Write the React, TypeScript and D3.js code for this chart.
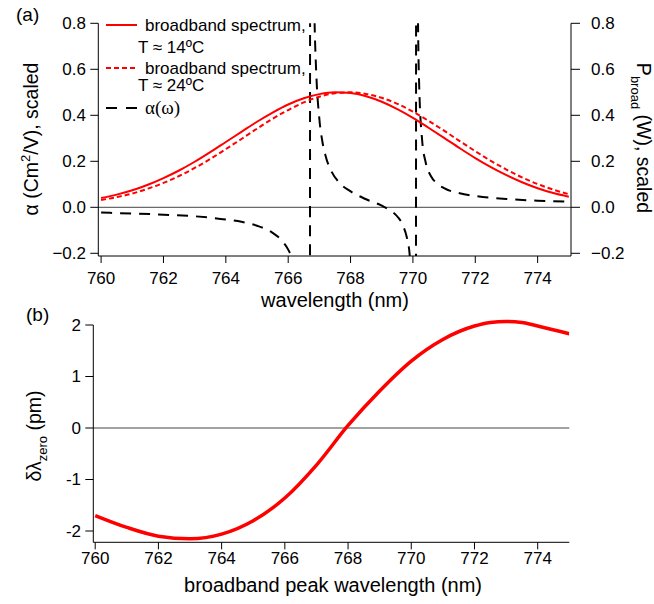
import React from "react";
import * as d3 from "d3";

// ---------- data ----------
const specWl = [760, 760.5, 761, 761.5, 762, 762.5, 763, 763.5, 764, 764.5, 765, 765.5, 766, 766.5, 767, 767.5, 768, 768.5, 769, 769.5, 770, 770.5, 771, 771.5, 772, 772.5, 773, 773.5, 774, 774.5, 775];
const spec14 = [0.040, 0.055, 0.074, 0.098, 0.127, 0.160, 0.198, 0.240, 0.284, 0.328, 0.372, 0.412, 0.447, 0.474, 0.492, 0.500, 0.497, 0.483, 0.459, 0.427, 0.389, 0.346, 0.302, 0.257, 0.214, 0.175, 0.140, 0.109, 0.083, 0.062, 0.046];
const spec24 = [0.032, 0.044, 0.060, 0.081, 0.106, 0.136, 0.171, 0.210, 0.253, 0.297, 0.342, 0.385, 0.423, 0.456, 0.481, 0.496, 0.500, 0.493, 0.476, 0.450, 0.416, 0.376, 0.333, 0.288, 0.244, 0.202, 0.164, 0.130, 0.101, 0.077, 0.057];

const alphaWl = [760, 761, 762, 763, 764, 764.5, 765, 765.5, 765.8, 766, 766.2, 766.4, 766.6, 766.68, 766.72, 766.75, 766.8, 766.85, 766.9, 767, 767.1, 767.2, 767.4, 767.6, 768, 768.5, 769, 769.3, 769.5, 769.7, 769.8, 769.9, 770, 770.08, 770.09, 770.11, 770.13, 770.16, 770.2, 770.3, 770.4, 770.6, 770.8, 771, 771.5, 772, 773, 774, 775];
const alphaVals = [-0.023, -0.027, -0.032, -0.039, -0.053, -0.063, -0.080, -0.111, -0.145, -0.184, -0.253, -0.413, -1.21, -6.0, 6.0, 2.385, 1.185, 0.785, 0.584, 0.384, 0.283, 0.223, 0.153, 0.113, 0.069, 0.035, 0.007, -0.016, -0.040, -0.085, -0.128, -0.213, -0.464, -2.46, -4.96, 5.03, 1.70, 0.868, 0.535, 0.285, 0.201, 0.131, 0.101, 0.083, 0.061, 0.049, 0.036, 0.029, 0.025];

const shiftWl = [760, 761, 762, 763, 764, 765, 766, 767, 768, 769, 770, 771, 772, 772.5, 773, 773.5, 774, 775];
const shiftPm = [-1.70, -1.93, -2.10, -2.15, -2.06, -1.80, -1.36, -0.72, 0.05, 0.72, 1.30, 1.72, 1.98, 2.05, 2.07, 2.05, 1.98, 1.83];

const xTicks = [760, 762, 764, 766, 768, 770, 772, 774];
const yTicksA = [-0.2, 0, 0.2, 0.4, 0.6, 0.8];
const yTicksB = [-2, -1, 0, 1, 2];

const legendLabels = ["broadband spectrum,", "T \u2248 14\u00baC", "broadband spectrum,", "T \u2248 24\u00baC", "\u03b1(\u03c9)"];

// ---------- layout ----------
const FONT = "'Liberation Sans', Arial, Helvetica, sans-serif";
const RED = "#ff0000";

export default function App() {
  // panel (a)
  const aLeft = 98.3, aRight = 571, aTop = 23.3, aBottom = 256;
  const xA = d3.scaleLinear().domain([759.91, 775.07]).range([aLeft, aRight]);
  const yA = d3.scaleLinear().domain([-0.2, 0.8]).range([253.3, aTop]);

  // panel (b)
  const bLeft = 93.3, bRight = 569.3, bBottom = 542.3;
  const xB = d3.scaleLinear().domain([759.94, 775.0]).range([bLeft, bRight]);
  const yB = d3.scaleLinear().domain([-2, 2]).range([531, 325]);

  const lineA = d3
    .line<[number, number]>()
    .x((d) => xA(d[0]))
    .y((d) => yA(d[1]))
    .curve(d3.curveMonotoneX);
  const lineB = d3
    .line<[number, number]>()
    .x((d) => xB(d[0]))
    .y((d) => yB(d[1]))
    .curve(d3.curveMonotoneX);

  const s14 = lineA(specWl.map((w, i) => [w, spec14[i]] as [number, number])) || "";
  const s24 = lineA(specWl.map((w, i) => [w, spec24[i]] as [number, number])) || "";
  const al = lineA(alphaWl.map((w, i) => [w, alphaVals[i]] as [number, number])) || "";
  const sh = lineB(shiftWl.map((w, i) => [w, shiftPm[i]] as [number, number])) || "";

  const fmtA = d3.format(".1f");

  return (
    <svg
      width={654}
      height={604}
      style={{ position: "absolute", left: 0, top: 0, background: "#fff" }}
      fontFamily={FONT}
    >
      <defs>
        <clipPath id="clipA">
          <rect x={aLeft} y={aTop} width={aRight - aLeft} height={aBottom - aTop} />
        </clipPath>
        <clipPath id="clipB">
          <rect x={bLeft} y={300} width={bRight - bLeft} height={bBottom - 300} />
        </clipPath>
      </defs>
      <rect x={0} y={0} width={654} height={604} fill="#fff" />

      {/* ---------------- panel (a) ---------------- */}
      <text x={16} y={21} fontSize={19}>(a)</text>

      {/* zero line */}
      <line x1={aLeft} x2={aRight} y1={yA(0)} y2={yA(0)} stroke="#444" strokeWidth={1} />

      {/* curves */}
      <g clipPath="url(#clipA)">
        <path d={al} fill="none" stroke="#000" strokeWidth={2} strokeDasharray="11,8" />
        <path d={s24} fill="none" stroke={RED} strokeWidth={2} strokeDasharray="5,3" />
        <path d={s14} fill="none" stroke={RED} strokeWidth={2} />
      </g>

      {/* axes */}
      <line x1={aLeft} x2={aLeft} y1={aTop} y2={aBottom} stroke="#000" />
      <line x1={aRight} x2={aRight} y1={aTop} y2={aBottom} stroke="#000" />
      <line x1={aLeft} x2={aRight} y1={aBottom} y2={aBottom} stroke="#000" />
      {yTicksA.map((t) => (
        <g key={"la" + t}>
          <line x1={aLeft - 8} x2={aLeft} y1={yA(t)} y2={yA(t)} stroke="#000" />
          <text x={86} y={yA(t)} dy="0.35em" fontSize={17} textAnchor="end">
            {fmtA(t)}
          </text>
          <line x1={aRight} x2={aRight + 9} y1={yA(t)} y2={yA(t)} stroke="#000" />
          <text x={591} y={yA(t)} dy="0.35em" fontSize={17} textAnchor="start">
            {fmtA(t)}
          </text>
        </g>
      ))}
      {xTicks.map((t) => (
        <g key={"xa" + t}>
          <line x1={xA(t)} x2={xA(t)} y1={aBottom} y2={aBottom + 7} stroke="#000" />
          <text x={xA(t)} y={284} fontSize={17} textAnchor="middle">
            {t}
          </text>
        </g>
      ))}
      <text x={335} y={306.5} fontSize={20} textAnchor="middle">
        wavelength (nm)
      </text>
      <text transform={`translate(31,139) rotate(-90)`} fontSize={19.5} textAnchor="middle" dy="0.35em">
        <tspan>{"\u03b1 (Cm"}</tspan>
        <tspan dy={-8} fontSize={13}>2</tspan>
        <tspan dy={8}>/V), scaled</tspan>
      </text>
      <text transform={`translate(644,138) rotate(90)`} fontSize={19.5} textAnchor="middle" dy="0.35em">
        <tspan>P</tspan>
        <tspan dy={6} fontSize={13}>broad</tspan>
        <tspan dy={-6}> (W), scaled</tspan>
      </text>

      {/* legend */}
      <line x1={106} x2={137} y1={25} y2={25} stroke={RED} strokeWidth={2} />
      <text x={145} y={31} fontSize={17}>{legendLabels[0]}</text>
      <text x={138} y={53} fontSize={17}>{legendLabels[1]}</text>
      <line x1={106} x2={137} y1={68} y2={68} stroke={RED} strokeWidth={2} strokeDasharray="5,3" />
      <text x={145} y={74} fontSize={17}>{legendLabels[2]}</text>
      <text x={138} y={91} fontSize={17}>{legendLabels[3]}</text>
      <line x1={106} x2={137} y1={108} y2={108} stroke="#000" strokeWidth={2} strokeDasharray="11,9" />
      <text x={145} y={114} fontSize={19} fontFamily="'Liberation Serif', 'Times New Roman', serif">
        {legendLabels[4]}
      </text>

      {/* ---------------- panel (b) ---------------- */}
      <text x={26} y={321} fontSize={19}>(b)</text>
      <line x1={bLeft} x2={bRight} y1={yB(0)} y2={yB(0)} stroke="#444" strokeWidth={1} />
      <g clipPath="url(#clipB)">
        <path d={sh} fill="none" stroke={RED} strokeWidth={3.5} />
      </g>
      <line x1={bLeft} x2={bLeft} y1={yB(2)} y2={bBottom} stroke="#000" />
      <line x1={bLeft} x2={bRight} y1={bBottom} y2={bBottom} stroke="#000" />
      {yTicksB.map((t) => (
        <g key={"lb" + t}>
          <line x1={bLeft - 8} x2={bLeft} y1={yB(t)} y2={yB(t)} stroke="#000" />
          <text x={81} y={yB(t)} dy="0.35em" fontSize={17} textAnchor="end">
            {t}
          </text>
        </g>
      ))}
      {xTicks.map((t) => (
        <g key={"xb" + t}>
          <line x1={xB(t)} x2={xB(t)} y1={bBottom} y2={bBottom + 7} stroke="#000" />
          <text x={xB(t)} y={564} fontSize={17} textAnchor="middle">
            {t}
          </text>
        </g>
      ))}
      <text x={333} y={592} fontSize={20} textAnchor="middle">
        broadband peak wavelength (nm)
      </text>
      <text transform={`translate(34,436) rotate(-90)`} fontSize={19.5} textAnchor="middle" dy="0.35em">
        <tspan>{"\u03b4\u03bb"}</tspan>
        <tspan dy={6} fontSize={13}>zero</tspan>
        <tspan dy={-6}>{"  (pm)"}</tspan>
      </text>
    </svg>
  );
}
